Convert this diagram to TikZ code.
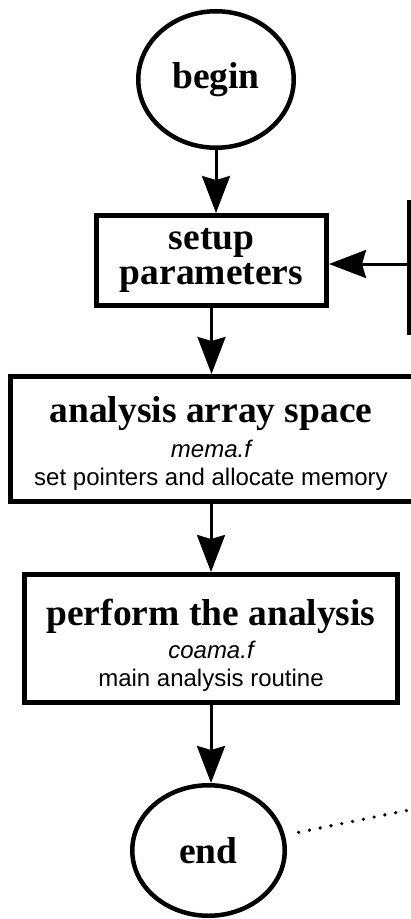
\documentclass[tikz,border=0pt]{standalone}
\usepackage{fontspec}
\setmainfont{Liberation Serif}
\newfontfamily\helv{Liberation Sans}
\usetikzlibrary{arrows.meta,shapes.geometric}

\tikzset{
  flowbox/.style={draw, line width=5pt, rectangle, inner sep=0pt},
  terminal/.style={draw, line width=4.5pt, ellipse, inner sep=0pt,
    font=\fontsize{37.5}{40}\selectfont\bfseries},
  title/.style={anchor=base, inner sep=0pt, font=\fontsize{37.5}{40}\selectfont\bfseries},
  file/.style={anchor=base, inner sep=0pt, font=\fontsize{24}{26}\selectfont\helv\itshape},
  note/.style={anchor=base, inner sep=0pt, font=\fontsize{24}{26}\selectfont\helv},
  flow/.style={line width=3pt, -{Stealth[length=37pt, width=28pt, inset=4pt]}},
  feedback/.style={line width=3.5pt},
  exitpath/.style={line width=3.6pt, line cap=round, dash pattern=on 0pt off 11pt}
}

\begin{document}
\begin{tikzpicture}[x=1pt, y=-1pt]
  \useasboundingbox (0,0) rectangle (411,919);
  \clip (0,0) rectangle (411,919);

  % terminals
  \node[terminal, minimum width=155.5pt, minimum height=136.5pt] (begin) at (216,79.5) {begin};
  \node[terminal, minimum width=152.5pt, minimum height=130.5pt] (end) at (208.5,850.5) {end};

  % setup step
  \node[flowbox, minimum width=230pt, minimum height=90pt, align=center,
        font=\fontsize{37.5}{35}\selectfont\bfseries] (setup) at (211.5,260.5) {setup\\parameters};

  % memory allocation step
  \node[flowbox, minimum width=412pt, minimum height=125pt] (anl) at (216,439) {};
  \node[title] (anlT) at (211,422) {analysis array space};
  \node[file]  (anlF) at (211,457) {mema.f};
  \node[note]  (anlN) at (211,485) {set pointers and allocate memory};

  % analysis step
  \node[flowbox, minimum width=373pt, minimum height=128pt] (perf) at (211,638.5) {};
  \node[title] (perfT) at (211,625) {perform the analysis};
  \node[file]  (perfF) at (211,658) {coama.f};
  \node[note]  (perfN) at (211,686) {main analysis routine};

  % main flow
  \draw[flow] (begin) -- (begin |- setup.north);
  \draw[flow] (setup.south) -- (setup.south |- anl.north);
  \draw[flow] (perf.north |- anl.south) -- (perf.north);
  \draw[flow] (perf.south) -- (perf.south |- end.north);

  % loop-back line on the right
  \coordinate (loopTop) at (409,200);
  \coordinate (loopBot) at (409,335);
  \coordinate (loopIn)  at (409,264);
  \draw[feedback] (loopTop) -- (loopBot);
  \draw[flow] (loopIn) -- (loopIn -| setup.east);

  % dotted exit
  \coordinate (exitEnd) at (414,809);
  \draw[exitpath, shorten <=14pt] (end) -- (exitEnd);
\end{tikzpicture}
\end{document}
